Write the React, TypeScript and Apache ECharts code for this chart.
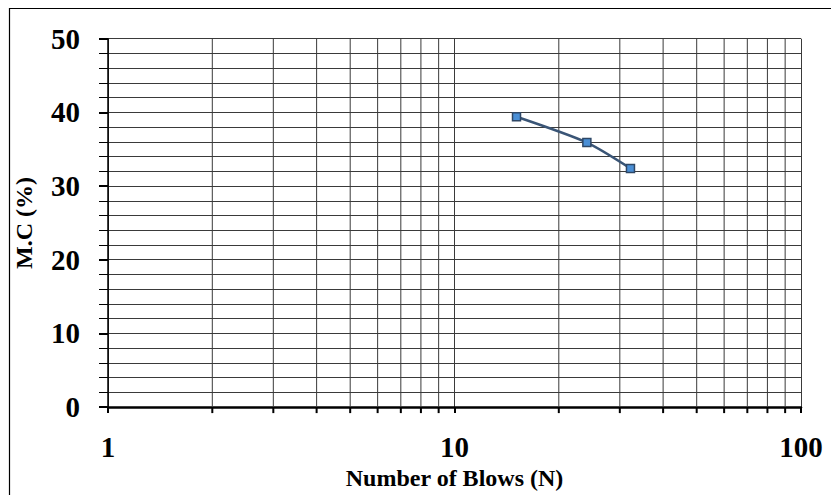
import React, { useEffect, useRef } from "react";
import * as echarts from "echarts";

const blows = [15.1, 24.1, 32.2];
const moisture = [39.4, 35.9, 32.4];
const minorLogValues = [2, 3, 4, 5, 6, 7, 8, 9, 20, 30, 40, 50, 60, 70, 80, 90];
const xTitle = "Number of Blows (N)";
const yTitle = "M.C (%)";

const FONT = "'Liberation Serif', 'Times New Roman', serif";

export default function App() {
  const ref = useRef<HTMLDivElement>(null);
  useEffect(() => {
    if (!ref.current) return;
    const chart = echarts.init(ref.current, null, { renderer: "svg" });
    const grid = "#3a3a3a";
    chart.setOption({
      animation: false,
      backgroundColor: "#ffffff",
      grid: { left: 108, right: 30, top: 38.7, bottom: 82.3 },
      xAxis: {
        type: "log",
        logBase: 10,
        min: 1,
        max: 100,
        name: xTitle,
        nameLocation: "middle",
        nameGap: 56,
        nameTextStyle: { fontFamily: FONT, fontWeight: "bold", fontSize: 24, color: "#000" },
        axisLine: { show: true, onZero: false, lineStyle: { color: "#000", width: 2.5 } },
        axisTick: { show: true, inside: false, length: 6, lineStyle: { color: "#000", width: 2 } },
        axisLabel: { fontFamily: FONT, fontWeight: "bold", fontSize: 29, color: "#000", margin: 25 },
        splitLine: { show: true, lineStyle: { color: grid, width: 1 } },
      },
      yAxis: {
        type: "value",
        min: 0,
        max: 50,
        interval: 10,
        name: yTitle,
        nameLocation: "middle",
        nameGap: 72,
        nameRotate: 90,
        nameTextStyle: { fontFamily: FONT, fontWeight: "bold", fontSize: 24, color: "#000" },
        axisLine: { show: true, lineStyle: { color: "#000", width: 1.5 } },
        axisTick: { show: true, length: 9, lineStyle: { color: "#000", width: 2 } },
        minorTick: { show: true, splitNumber: 5, length: 9, lineStyle: { color: "#000", width: 1 } },
        axisLabel: { fontFamily: FONT, fontWeight: "bold", fontSize: 29, color: "#000", margin: 28 },
        splitLine: { show: true, lineStyle: { color: grid, width: 1 } },
        minorSplitLine: { show: true, lineStyle: { color: grid, width: 1 } },
      },
      graphic: [
        { type: "line", shape: { x1: 9, y1: 8.5, x2: 900, y2: 8.5 }, style: { stroke: "#000", lineWidth: 1.2 } },
        { type: "line", shape: { x1: 9.5, y1: 8, x2: 9.5, y2: 600 }, style: { stroke: "#000", lineWidth: 1.2 } },
      ],
      series: [
        {
          type: "custom",
          silent: true,
          clip: false,
          z: 1,
          data: minorLogValues.map((v) => [v]),
          encode: { x: 0 },
          renderItem: (params: any, api: any) => {
            const v = api.value(0);
            const top = api.coord([v, 50]);
            const bot = api.coord([v, 0]);
            return {
              type: "group",
              children: [
                {
                  type: "line",
                  shape: { x1: top[0], y1: top[1], x2: bot[0], y2: bot[1] },
                  style: { stroke: grid, lineWidth: 1 },
                },
                {
                  type: "line",
                  shape: { x1: bot[0], y1: bot[1], x2: bot[0], y2: bot[1] + 6 },
                  style: { stroke: "#000", lineWidth: 2 },
                },
              ],
            };
          },
        },
        {
          type: "line",
          z: 5,
          smooth: 0.25,
          data: blows.map((b, i) => [b, moisture[i]]),
          symbol: "rect",
          symbolSize: 8,
          lineStyle: { color: "#3a5576", width: 2.5 },
          itemStyle: { color: "#4a8fd6", borderColor: "#2e4766", borderWidth: 1.5 },
        },
      ],
    });
    return () => chart.dispose();
  }, []);
  return <div ref={ref} style={{ width: 831, height: 495, position: "absolute", left: 0, top: 0 }} />;
}
